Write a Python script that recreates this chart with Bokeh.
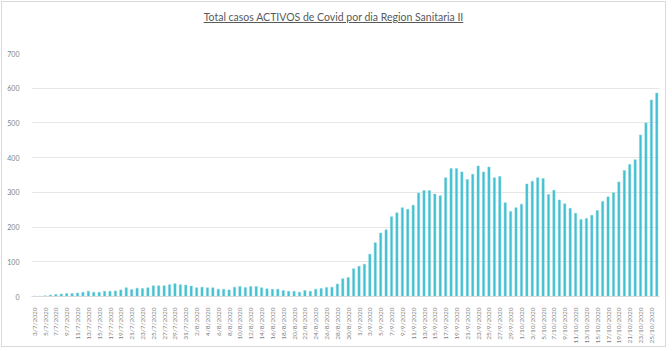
import pandas as pd
from math import pi
from bokeh.plotting import figure
from bokeh.models import ColumnDataSource, FixedTicker, Div
from bokeh.layouts import column
from bokeh.embed import file_html
from bokeh.resources import INLINE

title_text = "Total casos ACTIVOS de Covid por dia Region Sanitaria II"
start_date = "2020-07-03"

activos = [
    1, 1, 2, 4, 6, 7, 9, 9, 10, 12,
    15, 12, 12, 15, 15, 16, 19, 25, 20, 24,
    23, 25, 31, 31, 31, 34, 37, 34, 33, 30,
    25, 27, 25, 25, 21, 21, 19, 27, 29, 26,
    29, 29, 25, 22, 21, 21, 17, 15, 15, 12,
    17, 15, 21, 23, 26,
    27, 36, 51, 55, 80, 87, 93, 122, 155, 183,
    192, 230, 241, 256, 251, 263, 298, 305, 305, 295,
    290, 342, 369, 369, 359, 337, 352, 376, 359, 373,
    342, 346, 270, 245, 256, 266, 324, 332, 342, 340,
    294, 306, 278, 267, 254, 240, 222, 225, 234, 248,
    274, 287, 299, 330, 363, 380, 394, 465, 500, 566,
    586,
]

dates = pd.date_range(start_date, periods=len(activos), freq="D")
date_labels = [f"{d.day}/{d.month}/{d.year}" for d in dates]
y_ticks = [0, 100, 200, 300, 400, 500, 600, 700]

n = len(activos)
idx = list(range(n))
src = ColumnDataSource(dict(x=idx, y=activos, fecha=date_labels))

p = figure(
    frame_width=628, frame_height=243,
    x_range=(-0.5, n - 0.5), y_range=(0, 700),
    output_backend="svg", toolbar_location=None,
    min_border_left=29, min_border_right=6,
    min_border_top=23, min_border_bottom=49,
)
p.vbar(x="x", top="y", width=0.42, source=src,
       fill_color="#40c0d0", line_color="#7fd3de", line_width=0.5)

p.outline_line_color = None
p.background_fill_color = "white"
p.border_fill_color = "white"

p.xgrid.grid_line_color = None
p.ygrid.grid_line_color = "#e6e6e6"
p.ygrid.grid_line_width = 1
p.ygrid.ticker = FixedTicker(ticks=y_ticks)

p.yaxis.ticker = FixedTicker(ticks=y_ticks)
p.yaxis.axis_line_color = None
p.yaxis.major_tick_line_color = None
p.yaxis.minor_tick_line_color = None
p.yaxis.major_label_text_font = "Lato"
p.yaxis.major_label_text_font_size = "7px"
p.yaxis.major_label_text_color = "#7f7f7f"
p.yaxis.major_label_standoff = 6

even = list(range(0, n, 2))
p.xaxis.ticker = FixedTicker(ticks=even)
p.xaxis.major_label_overrides = {i: date_labels[i] for i in even}
p.xaxis.major_label_orientation = pi / 2
p.xaxis.axis_line_color = "#d9d9d9"
p.xaxis.major_tick_line_color = None
p.xaxis.minor_tick_line_color = None
p.xaxis.major_label_text_font = "Lato"
p.xaxis.major_label_text_font_size = "6.5px"
p.xaxis.major_label_text_color = "#7f7f7f"
p.xaxis.major_label_standoff = 5

title = Div(
    text=f"<u>{title_text}</u>",
    width=663, height=28, margin=(0, 0, 0, 0),
    styles={
        "text-align": "center",
        "font-family": "Lato",
        "font-size": "10.5px",
        "color": "#595959",
        "line-height": "30px",
        "width": "663px",
    },
)

layout = column(title, p, spacing=0, margin=(2, 0, 0, 2),
                styles={"outline": "1px solid #d9d9d9"})
open("out.html", "w").write(file_html(layout, INLINE))
